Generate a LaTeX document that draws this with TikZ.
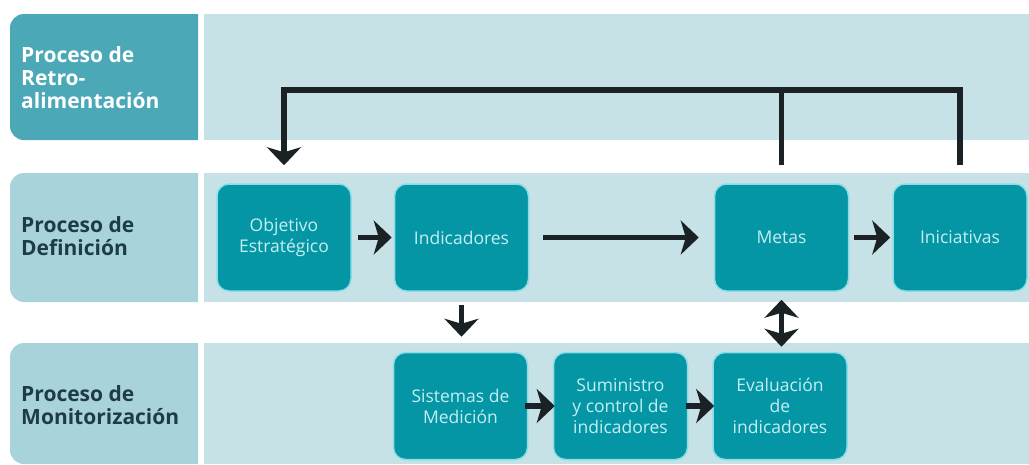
\documentclass[tikz,border=0pt]{standalone}
\usepackage{fontspec}
\setmainfont{Open Sans}
\usetikzlibrary{arrows.meta}
\definecolor{lbldark}{HTML}{4BA8B7}
\definecolor{lbllight}{HTML}{A9D3DB}
\definecolor{bandc}{HTML}{C6E2E7}
\definecolor{boxfill}{HTML}{0596A5}
\definecolor{boxrim}{HTML}{8ADDE6}
\definecolor{boxtext}{HTML}{C4EEF2}
\definecolor{lbltext}{HTML}{1D3C46}
\definecolor{arrowc}{HTML}{1A2226}
\begin{document}
\begin{tikzpicture}[x=1pt,y=-1pt,
  stepbox/.style={draw=boxrim, line width=1.5pt, fill=boxfill, rounded corners=12pt,
    minimum width=134pt, minimum height=107pt, text=boxtext, align=center,
    font=\fontsize{17.5}{21}\selectfont, inner sep=1pt},
  lbl/.style={anchor=west, align=left, font=\bfseries\fontsize{21}{23}\selectfont, inner sep=0pt},
  conn/.style={draw=arrowc, line width=5.5pt, -{Stealth[length=18pt,width=34pt,inset=5pt]}},
  fbline/.style={draw=arrowc, line width=5.5pt},
]
\useasboundingbox (0,0) rectangle (1029,464);
\fill[white] (0,0) rectangle (1029,464);
% bands
\fill[bandc] (204,14) rectangle (1029,140);
\fill[bandc] (204,173) rectangle (1029,302);
\fill[bandc] (204,343) rectangle (1029,464);
% label boxes
\fill[lbldark] (198,14) [rounded corners=14pt] -- (10,14) -- (10,140) [sharp corners] -- (198,140) -- cycle;
\fill[lbllight] (198,173) [rounded corners=14pt] -- (10,173) -- (10,302) [sharp corners] -- (198,302) -- cycle;
\fill[lbllight] (198,343) [rounded corners=14pt] -- (10,343) -- (10,464) [sharp corners] -- (198,464) -- cycle;
% label texts
\node[lbl, text=white] (l1) at (21,78) {Proceso de\\Retro-\\alimentación};
\node[lbl, text=lbltext] (l2) at (21,236) {Proceso de\\Definición};
\node[lbl, text=lbltext] (l3) at (21,405) {Proceso de\\Monitorización};
% boxes
\node[stepbox] (obj) at (284,237.5) {Objetivo\\Estratégico};
\node[stepbox] (ind) at (461.5,237.5) {Indicadores};
\node[stepbox] (met) at (781.5,237.5) {Metas};
\node[stepbox] (ini) at (960,237.5) {Iniciativas};
\node[stepbox] (sis) at (460.5,406) {Sistemas de\\Medición};
\node[stepbox] (sum) at (620.5,406) {Suministro\\y control de\\indicadores};
\node[stepbox] (eva) at (780,406) {Evaluación\\de\\indicadores};
% connectors
\coordinate (top) at (0,90);
\draw[conn, shorten <=6pt, shorten >=2pt] (obj) -- (ind);
\draw[conn, shorten <=14pt, shorten >=15pt] (ind) -- (met);
\draw[conn, shorten <=5pt, shorten >=2pt] (met) -- (ini);
\draw[conn, shorten <=-3pt, shorten >=-2pt] (sis) -- (sum);
\draw[conn, shorten <=-2pt, shorten >=-2pt] (sum) -- (eva);
\draw[conn, shorten <=13pt, shorten >=15pt] (ind.south) -- (ind.south |- sis.north);
\draw[conn, {Stealth[length=18pt,width=34pt,inset=5pt]}-{Stealth[length=18pt,width=34pt,inset=5pt]}, shorten <=8pt, shorten >=5pt] (met.south) -- (met.south |- eva.north);
\draw[conn, line join=miter, shorten <=18pt, shorten >=18pt] (ini.north) -- (ini.north |- top) -- (obj.north |- top) -- (obj.north);
\draw[fbline, shorten <=18pt] (met.north) -- (met.north |- top);
\end{tikzpicture}
\end{document}
